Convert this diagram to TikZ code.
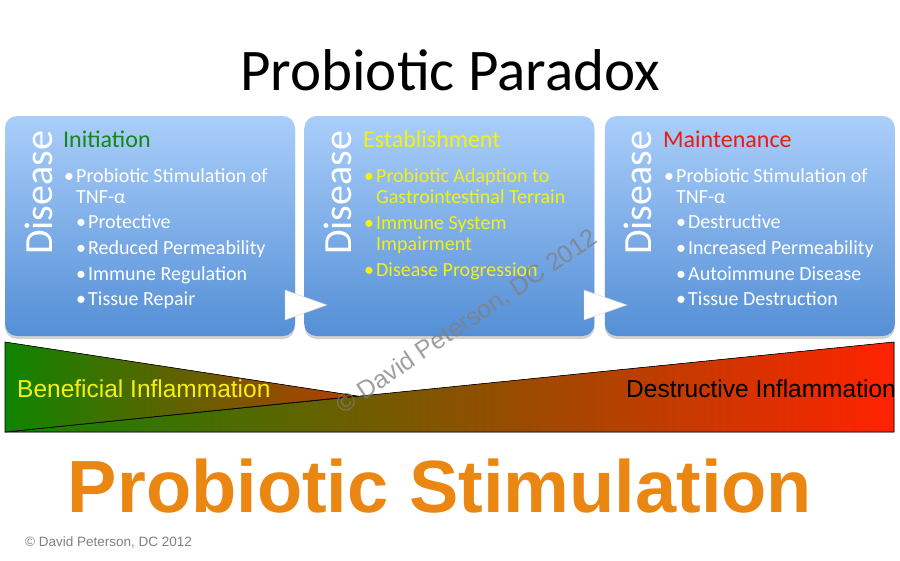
\documentclass[tikz,border=0pt]{standalone}
\usepackage{fontspec}
\setmainfont{Carlito}
\newfontfamily\arialfont{Liberation Sans}
\usetikzlibrary{positioning,shadows}

\definecolor{boxtop}{RGB}{170,206,250}
\definecolor{boxbot}{RGB}{84,143,214}
\definecolor{initgreen}{RGB}{20,135,20}
\definecolor{estyellow}{RGB}{245,240,20}
\definecolor{maintred}{RGB}{232,28,16}
\definecolor{goodgreen}{RGB}{15,132,0}
\definecolor{badred}{RGB}{255,34,0}
\definecolor{tipbrown}{RGB}{180,62,0}
\definecolor{stimorange}{RGB}{234,134,18}

\newcommand{\bul}{\llap{\textbullet\hspace{2pt}}}

\begin{document}
\begin{tikzpicture}[
  x=1pt,y=-1pt,
  stage/.style={rounded corners=12pt,minimum width=290pt,minimum height=220pt,inner sep=0pt,
    top color=boxtop,bottom color=boxbot,drop shadow={opacity=.35,shadow xshift=0pt,shadow yshift=-3pt}},
  disease/.style={rotate=90,anchor=base west,inner sep=0pt,text=white,font=\fontsize{40}{40}\selectfont},
  head/.style={anchor=base west,inner sep=0pt,font=\fontsize{24}{24}\selectfont},
  item/.style={anchor=base west,align=left,inner sep=0pt,text=white,font=\fontsize{20}{21}\selectfont},
  wedge/.style={draw=black,line width=.6pt},
  chev/.style={fill=white,draw=gray!35,line width=.4pt},
  wmark/.style={rotate=34,text=gray,text opacity=.75,font=\arialfont\fontsize{25}{25}\selectfont}
]
\fill[white] (0,0) rectangle (900,560);
\useasboundingbox (0,0) rectangle (900,560);

% title
\node[anchor=base,inner sep=0pt,font=\fontsize{59}{59}\selectfont] (title) at (450,90) {Probiotic Paradox};

% stages
\node[stage] (init) at (150,226) {};
\node[stage,right=9pt of init] (estab) {};
\node[stage,right=10pt of estab] (maint) {};

\node[disease] (d1) at (52,255) {Disease};
\node[disease] (d2) at (351,255) {Disease};
\node[disease] (d3) at (651,255) {Disease};

\node[head,text=initgreen] (h1) at (63,147) {Initiation};
\node[head,text=estyellow] (h2) at (363,147) {Establishment};
\node[head,text=maintred] (h3) at (663,147) {Maintenance};

% two-line items sit on their last line
\node[item] (i1) at (76,203) {\bul Probiotic Stimulation of\\TNF-α};
\node[item] (i2) at (88,228) {\bul Protective};
\node[item] (i3) at (88,254) {\bul Reduced Permeability};
\node[item] (i4) at (88,280) {\bul Immune Regulation};
\node[item] (i5) at (88,305) {\bul Tissue Repair};

\node[item,text=estyellow] (e1) at (376,203) {\bul Probiotic Adaption to\\Gastrointestinal Terrain};
\node[item,text=estyellow] (e2) at (376,250) {\bul Immune System\\Impairment};
\node[item,text=estyellow] (e3) at (376,276) {\bul Disease Progression};

\node[item] (m1) at (676,203) {\bul Probiotic Stimulation of\\TNF-α};
\node[item] (m2) at (688,228) {\bul Destructive};
\node[item] (m3) at (688,254) {\bul Increased Permeability};
\node[item] (m4) at (688,280) {\bul Autoimmune Disease};
\node[item] (m5) at (688,305) {\bul Tissue Destruction};

% chevrons between stages
\filldraw[chev] (285,290) -- (285,320) -- (327,305) -- cycle;
\filldraw[chev] (584,290) -- (584,320) -- (627,305) -- cycle;

% inflammation bar
\filldraw[wedge,left color=goodgreen,right color=badred] (5,432) -- (894,342) -- (894,432) -- cycle;
\filldraw[wedge,left color=goodgreen,right color=tipbrown] (5,342) -- (5,432) -- (357,396) -- cycle;
\node[anchor=base west,inner sep=0pt,text=estyellow,font=\arialfont\fontsize{24.5}{24.5}\selectfont] (good) at (17,397) {Beneficial Inflammation};
\node[anchor=base west,inner sep=0pt,font=\arialfont\fontsize{24.5}{24.5}\selectfont] (bad) at (626,397) {Destructive Inflammation};

% bottom
\node[anchor=base,inner sep=0pt,text=stimorange,font=\arialfont\bfseries\fontsize{74}{74}\selectfont] (stim) at (440,512) {Probiotic Stimulation};
\node[anchor=base west,inner sep=0pt,text=gray,font=\arialfont\fontsize{13.5}{13.5}\selectfont] (copy) at (25,546) {© David Peterson, DC 2012};

\node[wmark] (wm) at (467,322) {© David Peterson, DC 2012};
\end{tikzpicture}
\end{document}
